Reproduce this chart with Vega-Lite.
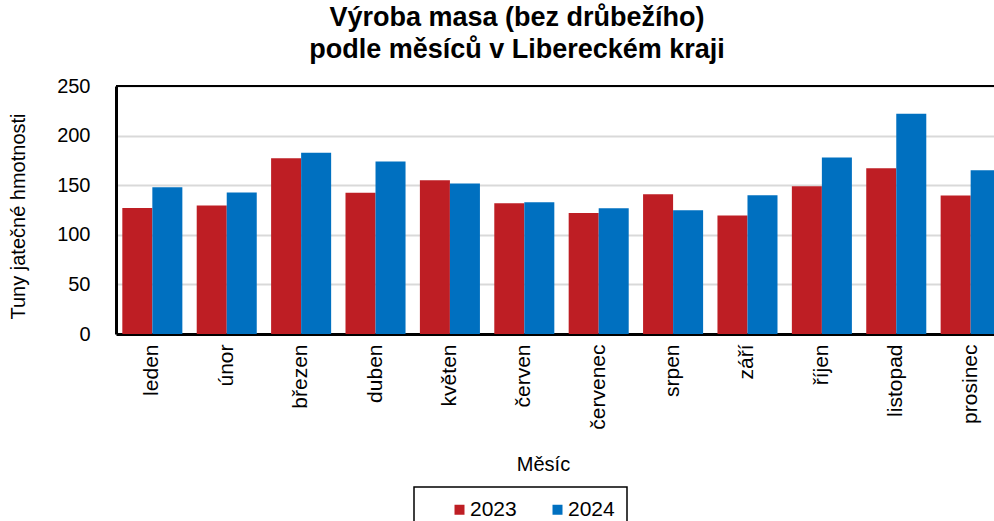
{
  "$schema": "https://vega.github.io/schema/vega-lite/v6.json",
  "autosize": {"type": "none"},
  "padding": {"left": 116, "top": 86, "right": 0, "bottom": 187},
  "width": 878,
  "height": 248,
  "background": "white",
  "config": {
    "font": "Liberation Sans",
    "view": {"stroke": null},
    "axis": {"labelColor": "black", "titleColor": "black", "labelFontSize": 20, "titleFontSize": 20, "titleFontWeight": "normal", "ticks": false}
  },
  "title": {
    "text": ["Výroba masa (bez drůbežího)", "podle měsíců v Libereckém kraji"],
    "fontSize": 27,
    "fontWeight": "bold",
    "color": "black",
    "offset": 12,
    "dx": -38,
    "lineHeight": 32
  },
  "data": {
    "values": [
      {"mesic": "leden", "rok": "2023", "hodnota": 127},
      {"mesic": "leden", "rok": "2024", "hodnota": 148},
      {"mesic": "únor", "rok": "2023", "hodnota": 129.5},
      {"mesic": "únor", "rok": "2024", "hodnota": 142.6},
      {"mesic": "březen", "rok": "2023", "hodnota": 177.2},
      {"mesic": "březen", "rok": "2024", "hodnota": 182.6},
      {"mesic": "duben", "rok": "2023", "hodnota": 142.3},
      {"mesic": "duben", "rok": "2024", "hodnota": 173.8},
      {"mesic": "květen", "rok": "2023", "hodnota": 155},
      {"mesic": "květen", "rok": "2024", "hodnota": 151.7},
      {"mesic": "červen", "rok": "2023", "hodnota": 131.9},
      {"mesic": "červen", "rok": "2024", "hodnota": 132.9},
      {"mesic": "červenec", "rok": "2023", "hodnota": 122.1},
      {"mesic": "červenec", "rok": "2024", "hodnota": 126.8},
      {"mesic": "srpen", "rok": "2023", "hodnota": 140.9},
      {"mesic": "srpen", "rok": "2024", "hodnota": 124.8},
      {"mesic": "září", "rok": "2023", "hodnota": 119.5},
      {"mesic": "září", "rok": "2024", "hodnota": 139.9},
      {"mesic": "říjen", "rok": "2023", "hodnota": 149},
      {"mesic": "říjen", "rok": "2024", "hodnota": 177.9},
      {"mesic": "listopad", "rok": "2023", "hodnota": 167.1},
      {"mesic": "listopad", "rok": "2024", "hodnota": 222.1},
      {"mesic": "prosinec", "rok": "2023", "hodnota": 139.6},
      {"mesic": "prosinec", "rok": "2024", "hodnota": 165.1}
    ]
  },
  "layer": [
    {
      "mark": {"type": "bar"},
      "encoding": {
        "x": {
          "field": "mesic",
          "type": "nominal",
          "sort": ["leden", "únor", "březen", "duben", "květen", "červen", "červenec", "srpen", "září", "říjen", "listopad", "prosinec"],
          "scale": {"range": [0, 891], "paddingInner": 0.193, "paddingOuter": 0.085},
          "axis": {"title": "Měsíc", "labelAngle": -90, "labelPadding": 10, "domainColor": "black", "domainWidth": 3, "titlePadding": 25, "titleX": 427, "labelFontSize": 21}
        },
        "xOffset": {"field": "rok", "type": "nominal", "scale": {"paddingInner": 0, "paddingOuter": 0}},
        "y": {
          "field": "hodnota",
          "type": "quantitative",
          "scale": {"domain": [0, 250], "nice": false},
          "axis": {"title": "Tuny jatečné hmotnosti", "values": [0, 50, 100, 150, 200, 250], "labelPadding": 26, "domainColor": "black", "domainWidth": 3, "gridColor": "#d9d9d9", "gridWidth": 2, "titlePadding": 28, "titleY": 130}
        },
        "color": {
          "field": "rok",
          "type": "nominal",
          "scale": {"domain": ["2023", "2024"], "range": ["#BE1E24", "#0070C0"]},
          "legend": {
            "title": null,
            "orient": "none",
            "legendX": 298,
            "legendY": 401,
            "direction": "horizontal",
            "symbolType": "square",
            "symbolSize": 100,
            "symbolStrokeWidth": 0,
            "symbolOffset": 23,
            "labelOffset": 0,
            "labelFontSize": 21,
            "labelColor": "black",
            "columnPadding": 7,
            "padding": 12,
            "strokeColor": "black",
            "encode": {"legend": {"update": {"strokeWidth": {"value": 1.5}}}}
          }
        }
      }
    },
    {
      "mark": {"type": "rule", "color": "black", "strokeWidth": 2},
      "encoding": {"y": {"datum": 250}}
    }
  ]
}
